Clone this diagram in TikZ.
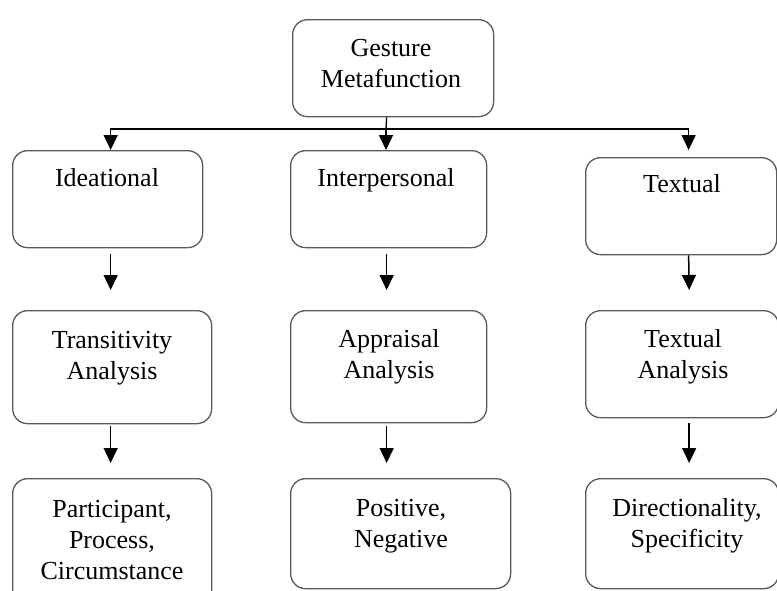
\documentclass[tikz,border=0pt]{standalone}
\usepackage{fontspec}
\setmainfont{Liberation Serif}
\usetikzlibrary{arrows.meta}
\begin{document}
\begin{tikzpicture}[x=1pt,y=-1pt,
  box/.style={draw=black!65,line width=1.3pt,rounded corners=15pt,anchor=north west,inner sep=0pt},
  txt/.style={anchor=base,align=center,font=\fontsize{26}{31}\selectfont},
  arr/.style={line width=1.5pt,-{Triangle[width=14pt,length=15pt]}}]
  \useasboundingbox (0,0) rectangle (777,590);
  \node[box,minimum width=201pt,minimum height=97pt] (gest) at (292,19) {};
  \node[box,minimum width=190pt,minimum height=97pt] (ideat) at (12,150) {};
  \node[box,minimum width=196pt,minimum height=97pt] (inter) at (290,150) {};
  \node[box,minimum width=191pt,minimum height=97pt] (textl) at (585,157) {};
  \node[box,minimum width=199pt,minimum height=113pt] (trans) at (12,310) {};
  \node[box,minimum width=196pt,minimum height=112pt] (apprs) at (290,310) {};
  \node[box,minimum width=193pt,minimum height=107pt] (textan) at (585,310) {};
  \node[box,minimum width=199pt,minimum height=130pt] (partc) at (12,478) {};
  \node[box,minimum width=220pt,minimum height=110pt] (posneg) at (290,478) {};
  \node[box,minimum width=193pt,minimum height=110pt] (direc) at (585,478) {};
  \node[txt] (gest-t) at (391,87) {Gesture\\Metafunction};
  \node[txt] (ideat-t) at (107,186) {Ideational};
  \node[txt] (inter-t) at (386,186) {Interpersonal};
  \node[txt] (textl-t) at (682,192) {Textual};
  \node[txt] (trans-t) at (112,379) {Transitivity\\Analysis};
  \node[txt] (apprs-t) at (389,378) {Appraisal\\Analysis};
  \node[txt] (textan-t) at (683,378) {Textual\\Analysis};
  \node[txt] (partc-t) at (112,579) {Participant,\\Process,\\Circumstance};
  \node[txt] (posneg-t) at (401,547) {Positive,\\Negative};
  \node[txt] (direc-t) at (687,547) {Directionality,\\Specificity};
  \coordinate (bus) at (386,129);
  \draw[line width=1.3pt] ([xshift=-6.5pt]gest.south) -- (bus);
  \draw[arr] (bus) -| ([xshift=3pt]ideat.north);
  \draw[arr] (bus) -- (bus |- inter.north);
  \draw[arr] (bus) -| ([shift={(7.5pt,7pt)}]textl.north);
  \draw[arr] ([shift={(3pt,-6pt)}]ideat.south) -- ([shift={(-1.5pt,20pt)}]trans.north);
  \draw[arr] ([shift={(-2pt,-6pt)}]inter.south) -- ([shift={(-2pt,20pt)}]apprs.north);
  \draw[arr] ([xshift=7.5pt]textl.south) -- ([shift={(7pt,20pt)}]textan.north);
  \draw[arr] ([shift={(-1.5pt,-2pt)}]trans.south) -- ([shift={(-1.5pt,15pt)}]partc.north);
  \draw[arr] ([shift={(-2pt,-3pt)}]apprs.south) -- ([shift={(-14pt,15pt)}]posneg.north);
  \draw[arr] ([shift={(7pt,-5pt)}]textan.south) -- ([shift={(7pt,15pt)}]direc.north);
\end{tikzpicture}
\end{document}
